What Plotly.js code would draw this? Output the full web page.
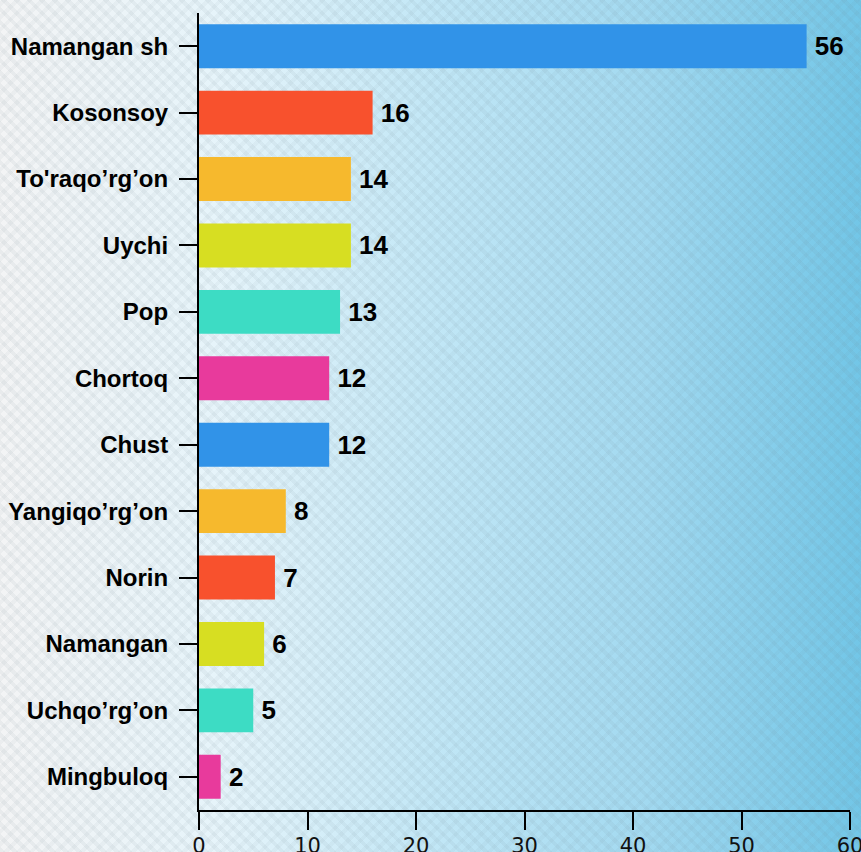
<!DOCTYPE html>
<html>
<head>
<meta charset="utf-8">
<script src="https://cdn.plot.ly/plotly-3.0.1.min.js"></script>
<style>
html, body { margin: 0; padding: 0; }
body {
  width: 861px; height: 852px; overflow: hidden;
  background:
    repeating-linear-gradient(45deg, rgba(110,130,140,0.08) 0px, rgba(110,130,140,0.08) 4px, rgba(255,255,255,0) 4px, rgba(255,255,255,0) 9px),
    repeating-linear-gradient(-45deg, rgba(110,130,140,0.06) 0px, rgba(110,130,140,0.06) 4px, rgba(255,255,255,0) 4px, rgba(255,255,255,0) 9px),
    linear-gradient(to right, #f3f4f5 0%, #e6f4fa 25%, #c2e7f6 50%, #a2d9f0 75%, #72c6e7 100%);
}
#chart { width: 861px; height: 852px; }
</style>
</head>
<body>
<div id="chart"></div>
<script>
const categories = ["Namangan sh", "Kosonsoy", "To'raqo’rg’on", "Uychi", "Pop", "Chortoq", "Chust", "Yangiqo’rg’on", "Norin", "Namangan", "Uchqo’rg’on", "Mingbuloq"];
const values = [56, 16, 14, 14, 13, 12, 12, 8, 7, 6, 5, 2];
const colors = ["#3193E8", "#F8512D", "#F6B92D", "#D7DE22", "#3DDCC4", "#E83A9C", "#3193E8", "#F6B92D", "#F8512D", "#D7DE22", "#3DDCC4", "#E83A9C"];
const xTicks = [0, 10, 20, 30, 40, 50, 60];

const trace = {
  type: "bar",
  orientation: "h",
  y: categories,
  x: values,
  marker: { color: colors },
  text: values.map(v => "\u2009" + v),
  textposition: "outside",
  cliponaxis: false,
  textfont: { family: "Liberation Sans, Arial, sans-serif", size: 26, color: "#000", weight: "bold" },
  hoverinfo: "none"
};

const layout = {
  width: 861, height: 852,
  margin: { l: 199, r: 11, t: 13, b: 42 },
  paper_bgcolor: "rgba(0,0,0,0)",
  plot_bgcolor: "rgba(0,0,0,0)",
  showlegend: false,
  bargap: 0.34,
  xaxis: {
    range: [0, 60],
    tickvals: xTicks,
    ticktext: xTicks.map(String),
    showgrid: false,
    zeroline: false,
    showline: true,
    linecolor: "#000",
    linewidth: 2,
    ticks: "outside",
    ticklen: 18,
    tickwidth: 2,
    tickcolor: "#000",
    ticklabeloverflow: "allow",
    ticklabelstandoff: -2,
    tickfont: { family: "DejaVu Sans", size: 21, color: "#111", stretch: "condensed" },
    fixedrange: true
  },
  yaxis: {
    type: "category",
    categoryorder: "array",
    categoryarray: categories,
    autorange: "reversed",
    showgrid: false,
    zeroline: false,
    showline: true,
    linecolor: "#000",
    linewidth: 2,
    ticks: "outside",
    ticklen: 18,
    tickwidth: 2,
    tickcolor: "#000",
    ticklabelstandoff: 6,
    tickfont: { family: "Liberation Sans, Arial, sans-serif", size: 24, color: "#000", weight: "bold" },
    fixedrange: true
  }
};

Plotly.newPlot("chart", [trace], layout, { displayModeBar: false, staticPlot: true });
</script>
</body>
</html>
